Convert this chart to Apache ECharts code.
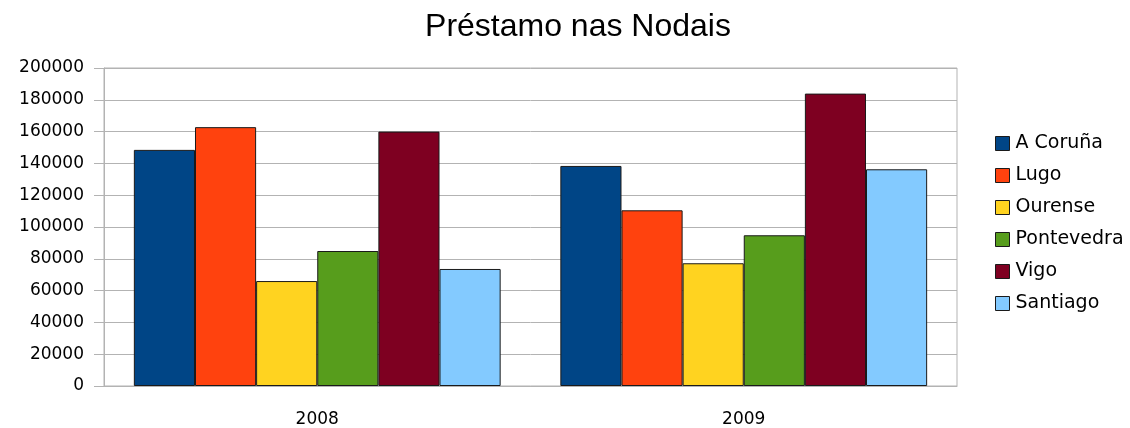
<!DOCTYPE html>
<html>
<head>
<meta charset="utf-8">
<script src="https://cdn.jsdelivr.net/npm/echarts@6/dist/echarts.min.js"></script>
<style>
  html, body { margin: 0; padding: 0; background: #fff; }
  #chart { width: 1130px; height: 428px; }
</style>
</head>
<body>
<div id="chart"></div>
<script>
// datos
var anos = ['2008', '2009'];
var nodais = ['A Coruña', 'Lugo', 'Ourense', 'Pontevedra', 'Vigo', 'Santiago'];
var coruna = [148500, 138400];
var lugo = [162800, 110500];
var ourense = [66000, 77200];
var pontevedra = [84900, 94800];
var vigo = [160000, 183900];
var santiago = [73600, 136300];
var cores = ['#004586', '#ff420e', '#ffd320', '#579d1c', '#7e0021', '#83caff'];

var valores = [coruna, lugo, ourense, pontevedra, vigo, santiago];
var chart = echarts.init(document.getElementById('chart'));

var series = nodais.map(function (n, i) {
  return {
    name: n,
    type: 'bar',
    data: valores[i],
    barGap: '0%',
    barCategoryGap: '14%',
    itemStyle: { color: cores[i], borderColor: '#1a1a1a', borderWidth: 1 }
  };
});

var option = {
  animation: false,
  title: {
    text: 'Préstamo nas Nodais',
    left: 573,
    textAlign: 'center',
    top: 6,
    textStyle: { fontSize: 32, fontWeight: 'normal', color: '#000', fontFamily: 'Liberation Sans' }
  },
  legend: {
    orient: 'vertical',
    left: 990,
    top: 129,
    itemWidth: 14,
    itemHeight: 14,
    itemGap: 13,
    icon: 'rect',
    itemStyle: { borderColor: '#1a1a1a', borderWidth: 1 },
    textStyle: { fontSize: 19, color: '#000', fontFamily: 'DejaVu Sans', padding: [0, 0, 0, 1] },
    data: nodais
  },
  grid: {
    left: 104, right: 173, top: 68, bottom: 42,
    outerBoundsMode: 'none',
    containLabel: false,
    show: true, borderColor: '#b3b3b3', borderWidth: 1
  },
  xAxis: {
    type: 'category',
    data: anos,
    axisLine: { lineStyle: { color: '#b3b3b3' } },
    axisTick: { length: 12, lineStyle: { color: '#b3b3b3' } },
    axisLabel: { fontSize: 17, color: '#000', margin: 25, fontFamily: 'DejaVu Sans' }
  },
  yAxis: {
    type: 'value',
    min: 0,
    max: 200000,
    interval: 20000,
    axisLine: { show: true, lineStyle: { color: '#b3b3b3' } },
    axisTick: { show: true, inside: false, length: 10, lineStyle: { color: '#b3b3b3' } },
    axisLabel: {
      fontSize: 17, color: '#000', margin: 20, fontFamily: 'DejaVu Sans',
      formatter: function (v) { return String(v); }
    },
    splitLine: { lineStyle: { color: '#b3b3b3' } }
  },
  series: series
};

chart.setOption(option);
</script>
</body>
</html>
